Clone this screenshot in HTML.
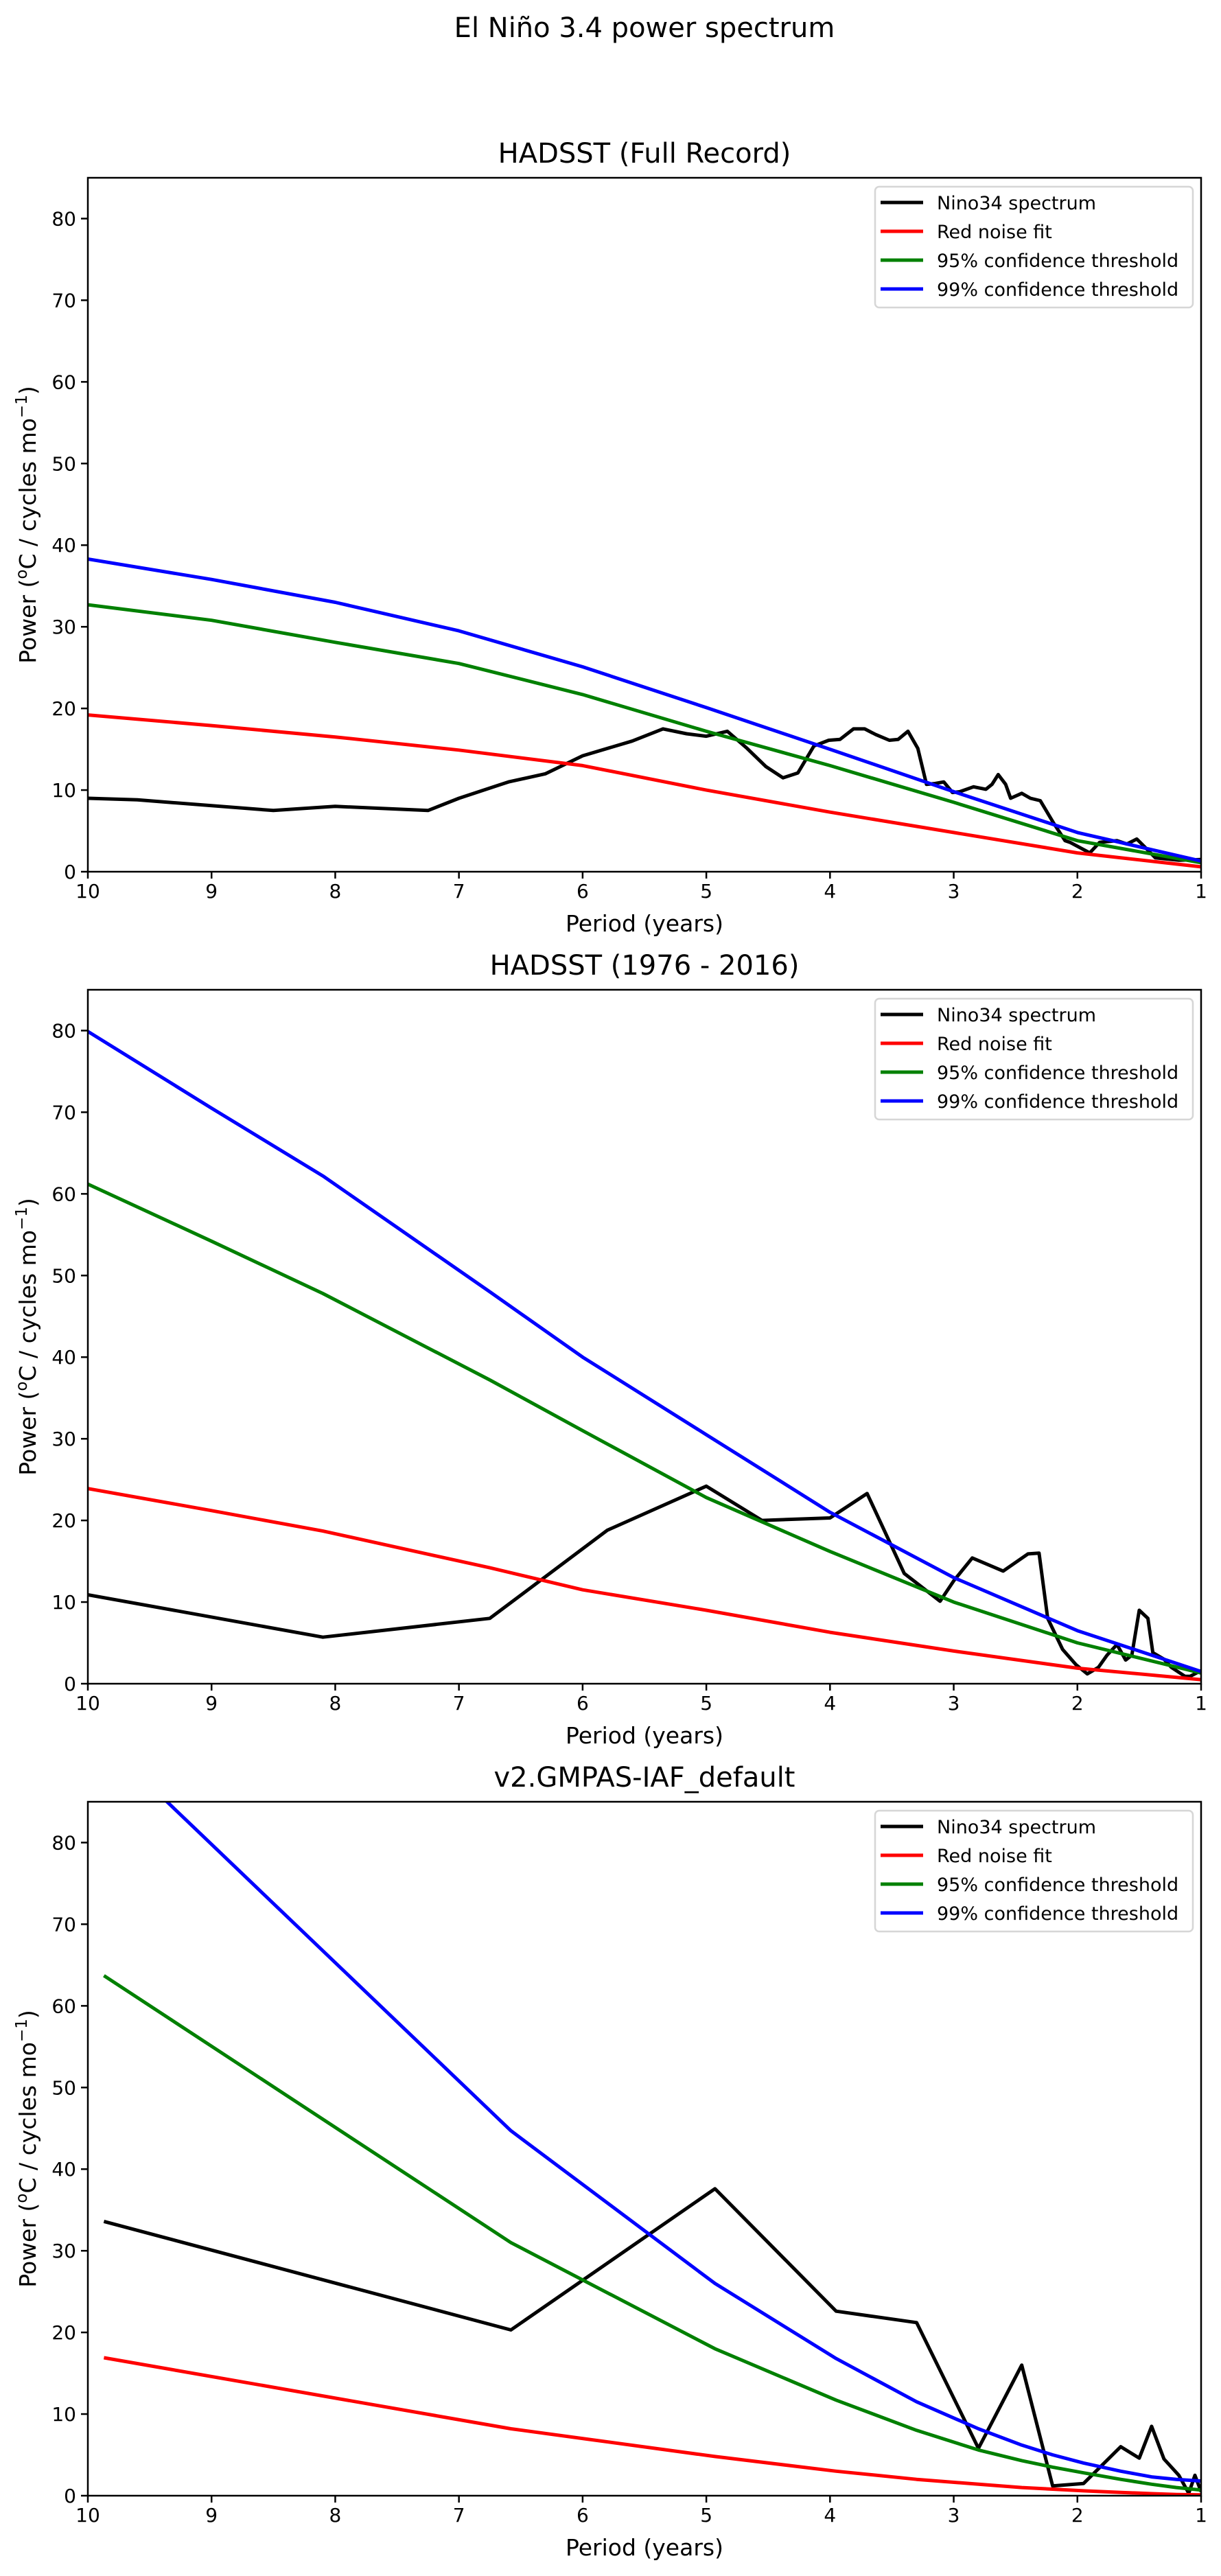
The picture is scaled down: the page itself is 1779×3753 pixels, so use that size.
<!DOCTYPE html>
<html><head><meta charset="utf-8"><style>
html,body{margin:0;padding:0;background:#fff;}
svg text{font-family:"DejaVu Sans","Liberation Sans",sans-serif;}
</style></head><body>
<svg id="fig" width="1779" height="3748" viewBox="0 0 1779 3748" xmlns="http://www.w3.org/2000/svg">
<rect width="1779" height="3748" fill="#fff"/>
<text x="939" y="54" font-size="40" text-anchor="middle">El Niño 3.4 power spectrum</text>
</svg>
<script>
// ---- Panel 1: HADSST (Full Record)
const p1BlackX=[10,9.6,8.5,8,7.25,7,6.6,6.3,6.0,5.6,5.35,5.16,5.00,4.83,4.67,4.52,4.38,4.26,4.13,4.01,3.92,3.81,3.72,3.63,3.52,3.45,3.37,3.29,3.22,3.15,3.08,3.01,2.95,2.84,2.74,2.69,2.64,2.58,2.54,2.45,2.38,2.30,2.19,2.1,2.06,1.9,1.82,1.68,1.6,1.52,1.46,1.37,1.18,1.0];
const p1BlackY=[9,8.8,7.5,8,7.5,9,11,12,14.2,16,17.5,16.9,16.6,17.2,15.1,12.9,11.5,12.1,15.4,16.1,16.2,17.5,17.5,16.8,16.1,16.2,17.2,15.1,10.7,10.8,11.0,9.7,9.8,10.4,10.1,10.7,11.9,10.7,9.0,9.6,9.0,8.7,5.9,3.8,3.6,2.3,3.6,3.8,3.4,4.0,3.1,1.7,1.4,1.5];
const p1FitX=[10,9,8,7,6,5,4,3,2,1];
const p1Red=[19.2,17.9,16.5,14.9,13.0,10.0,7.3,4.8,2.3,0.6];
const p1Green=[32.7,30.8,28.1,25.5,21.7,17.2,13.0,8.5,3.8,1.1];
const p1Blue=[38.3,35.8,33.0,29.5,25.1,20.1,15.0,9.8,4.8,1.3];
// ---- Panel 2: HADSST (1976 - 2016)
const p2BlackX=[10,8.1,6.75,5.8,5.0,4.55,4.0,3.7,3.4,3.11,3.0,2.85,2.6,2.4,2.31,2.24,2.12,2.01,1.92,1.83,1.76,1.68,1.61,1.56,1.50,1.43,1.39,1.30,1.24,1.13,1.09,1.0];
const p2BlackY=[10.9,5.7,8,18.8,24.2,20,20.3,23.3,13.5,10.1,12.6,15.4,13.8,15.9,16,8,4.2,2.3,1.2,2.0,3.5,4.8,2.9,3.5,9.0,8.0,3.8,3.0,2.0,0.9,0.9,1.6];
const p2FitX=[10,9,8.1,6.75,6,5,4,3,2,1];
const p2Red=[23.9,21.2,18.7,14.2,11.5,9.0,6.3,4.0,1.9,0.5];
const p2Green=[61.2,54.2,47.8,37.2,31.0,22.8,16.2,10.0,5.0,1.3];
const p2Blue=[79.9,70.5,62.2,48.0,40.0,30.5,21.0,13.0,6.5,1.5];
// ---- Panel 3: v2.GMPAS-IAF_default
const p3BlackX=[9.87,6.58,4.93,3.95,3.3,2.8,2.45,2.2,1.95,1.65,1.5,1.4,1.3,1.18,1.1,1.05,1.0];
const p3BlackY=[33.6,20.3,37.6,22.6,21.2,5.8,16,1.2,1.5,6,4.6,8.5,4.5,2.5,0.3,2.5,0.5];
const p3FitX=[9.87,6.58,4.93,3.95,3.3,2.8,2.45,2.2,1.95,1.65,1.4,1.2,1.0];
const p3Red=[16.9,8.2,4.8,3.0,2.0,1.4,1.0,0.8,0.6,0.4,0.25,0.15,0.1];
const p3Green=[63.7,31.0,18.0,11.7,8.0,5.6,4.3,3.5,2.8,2.0,1.4,1.0,0.7];
const p3Blue=[92.4,44.7,26.0,16.8,11.5,8.2,6.2,5.0,4.0,3.0,2.3,2.0,1.8];
const xTicks=[10,9,8,7,6,5,4,3,2,1];
const yTicks=[0,10,20,30,40,50,60,70,80];
const legendLabels=["Nino34 spectrum","Red noise fit","95% confidence threshold","99% confidence threshold"];
const legendColors=["#000","#ff0000","#008000","#0000ff"];

const NS="http://www.w3.org/2000/svg";
const svg=document.getElementById('fig');
function mk(tag,attrs,parent){const e=document.createElementNS(NS,tag);for(const k in attrs)e.setAttribute(k,attrs[k]);(parent||svg).appendChild(e);return e;}

const L=128,R=1750,H=1011;
const panels=[
 {top:259,title:"HADSST (Full Record)",slug:"hadsst-full",bx:p1BlackX,by:p1BlackY,fx:p1FitX,red:p1Red,green:p1Green,blue:p1Blue},
 {top:1442,title:"HADSST (1976 - 2016)",slug:"hadsst-1976-2016",bx:p2BlackX,by:p2BlackY,fx:p2FitX,red:p2Red,green:p2Green,blue:p2Blue},
 {top:2625,title:"v2.GMPAS-IAF_default",slug:"gmpas-iaf",bx:p3BlackX,by:p3BlackY,fx:p3FitX,red:p3Red,green:p3Green,blue:p3Blue}
];
panels.forEach((p,i)=>{
  const top=p.top,bot=top+H;
  const xs=v=>L+(10-v)/9*(R-L);
  const ys=v=>bot-v/85*H;
  const g=mk('g',{});
  
  
  const cid='clip'+i;
  const cp=mk('clipPath',{id:cid},g);mk('rect',{x:L,y:top,width:R-L,height:H},cp);
  const t=mk('text',{x:(L+R)/2,y:top-22,'font-size':40,'text-anchor':'middle'},g);t.textContent=p.title;
  
  
  const series=[[p.bx,p.by,'#000','nino34-spectrum'],[p.fx,p.red,'#ff0000','red-noise-fit'],[p.fx,p.green,'#008000','confidence-95'],[p.fx,p.blue,'#0000ff','confidence-99']];
  series.forEach(s=>{
    const d=s[0].map((x,k)=>(k?'L':'M')+xs(x).toFixed(1)+' '+ys(s[1][k]).toFixed(1)).join(' ');
    const path=mk('path',{d:d,fill:'none',stroke:s[2],'stroke-width':5,'stroke-linejoin':'round','clip-path':'url(#'+cid+')'},g);
    
    
  });
  const fr=mk('rect',{x:L,y:top,width:R-L,height:H,fill:'none',stroke:'#000','stroke-width':2.5},g);
  
  
  xTicks.forEach(v=>{
    mk('line',{x1:xs(v),x2:xs(v),y1:bot,y2:bot+10,stroke:'#000','stroke-width':2.5},g);
    const tx=mk('text',{x:xs(v),y:bot+38,'font-size':28,'text-anchor':'middle'},g);tx.textContent=v;
    
    
  });
  yTicks.forEach(v=>{
    mk('line',{x1:L-10,x2:L,y1:ys(v),y2:ys(v),stroke:'#000','stroke-width':2.5},g);
    const ty=mk('text',{x:L-17,y:ys(v)+10,'font-size':28,'text-anchor':'end'},g);ty.textContent=v;
    
    
  });
  const xl=mk('text',{x:(L+R)/2,y:bot+87,'font-size':33,'text-anchor':'middle'},g);xl.textContent='Period (years)';
  
  
  const cy=(top+bot)/2;
  const yl=mk('text',{x:0,y:0,'font-size':33,'text-anchor':'middle',transform:'translate(52,'+cy+') rotate(-90)'},g);
  yl.innerHTML='Power (<tspan baseline-shift="super" font-size="23">o</tspan>C / cycles mo<tspan baseline-shift="super" font-size="23">−1</tspan>)';
  
  
  const lg=mk('g',{},g);
  
  
  const lt=top+13;
  mk('rect',{x:1275,y:lt,width:463,height:176,rx:6,fill:'#fff','fill-opacity':0.8,stroke:'#d6d6d6','stroke-width':2.5},lg);
  legendLabels.forEach((lab,k)=>{
    const yy=lt+23+k*42;
    const e=mk('g',{},lg);
    
    
    mk('line',{x1:1283,x2:1345,y1:yy,y2:yy,stroke:legendColors[k],'stroke-width':5},e);
    const tt=mk('text',{x:1365,y:yy+10,'font-size':27},e);tt.textContent=lab;
  });
});
</script>
</body></html>
